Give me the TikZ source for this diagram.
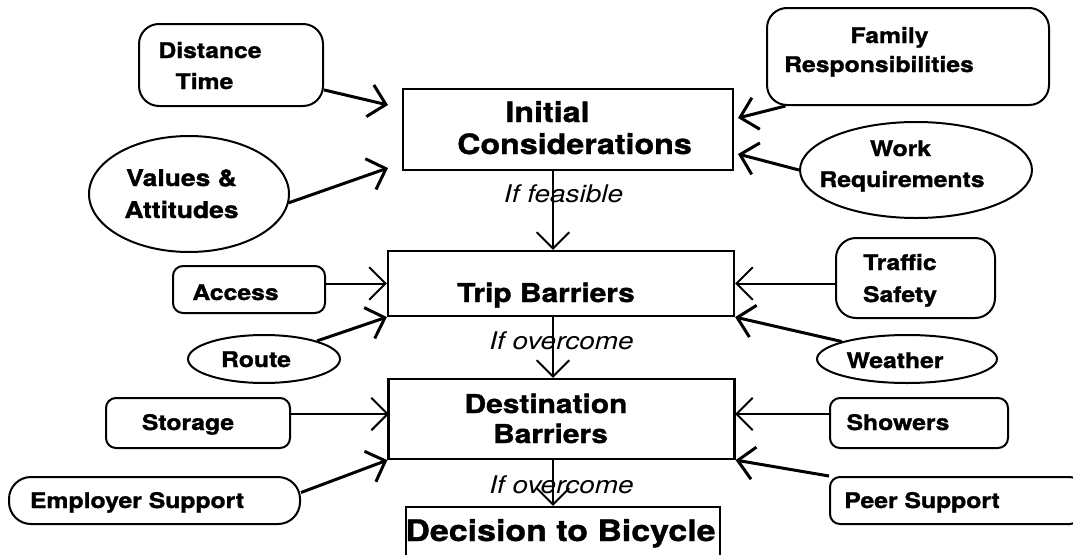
\documentclass[tikz,border=0pt]{standalone}
\usepackage{fontspec}
\setmainfont{TeX Gyre Heros}[FakeStretch=1.15, BoldFeatures={FakeBold=1.3}]
\usetikzlibrary{arrows.meta,shapes.geometric,calc}
\begin{document}
\begin{tikzpicture}[x=1pt,y=-1pt,
  lbl/.style={font=\bfseries\fontsize{21.5}{26}\selectfont, inner sep=0pt, anchor=base},
  lblv/.style={font=\bfseries\fontsize{23}{28}\selectfont, inner sep=0pt, anchor=base},
  bigt/.style={font=\bfseries\fontsize{28}{34}\selectfont, inner sep=0pt, anchor=base},
  midt/.style={font=\bfseries\fontsize{26}{32}\selectfont, inner sep=0pt, anchor=base},
  dect/.style={font=\bfseries\fontsize{29.5}{35}\selectfont, inner sep=0pt, anchor=base},
  itl/.style={font=\itshape\fontsize{24.3}{29}\selectfont, inner sep=0pt, anchor=base},
  mainbox/.style={draw, line width=2.2pt, inner sep=0pt},
  rbox/.style={draw, line width=2pt, rounded corners=#1, inner sep=0pt},
  rbox/.default=10pt,
  oval/.style={draw, ellipse, line width=2pt, inner sep=0pt},
  thinarr/.style={line width=2pt, -{Straight Barb[angle=90:23pt]}},
  thickarr/.style={line width=3pt, -{Straight Barb[angle=90:23pt]}},
]
\fill[white] (0,0) rectangle (1073,554);
\useasboundingbox (0,0) rectangle (1073,554);

% coordinates for free arrow ends
\coordinate (tdt) at (388,105);
\coordinate (tva) at (388,168);
\coordinate (tfr) at (738,118);
\coordinate (twr) at (738,154);
\coordinate (tst) at (389,414);
\coordinate (tsh) at (735,414);
\coordinate (vx) at (553,0);

% left column
\node[rbox=20pt, minimum width=184pt, minimum height=82pt] (dt) at (231,65) {};
\node[lbl] (dt1) at (210,58) {Distance};
\node[lbl] (dt2) at (204.5,89) {Time};

\node[oval, minimum width=200pt, minimum height=116pt] (va) at (189,194) {};
\node[lblv] (va1) at (181.5,186) {Values \&};
\node[lblv] (va2) at (181.5,218) {Attitudes};

\node[rbox=10pt, minimum width=152pt, minimum height=47pt] (ac) at (249,289.5) {};
\node[lbl] (ac1) at (235.5,300) {Access};

\node[oval, minimum width=152pt, minimum height=48pt] (rt) at (264,359) {};
\node[lbl] (rt1) at (256,367) {Route};

\node[rbox=10pt, minimum width=184pt, minimum height=50pt] (st) at (198,423) {};
\node[lbl] (st1) at (188,430) {Storage};

\node[rbox=22pt, minimum width=291pt, minimum height=47pt] (em) at (154.5,500.5) {};
\node[lbl] (em1) at (137,508) {Employer Support};

% centre column
\node[mainbox, minimum width=330pt, minimum height=81pt] (ic) at (568,129.5) {};
\node[bigt] (ic1) at (547.5,122) {Initial};
\node[bigt] (ic2) at (574.5,154) {Considerations};
\node[itl] (f1) at (563.5,202) {If feasible};

\node[mainbox, minimum width=346pt, minimum height=65pt] (tb) at (561,283.5) {};
\node[midt] (tb1) at (546,302) {Trip Barriers};
\node[itl] (o1) at (561.5,349) {If overcome};

\node[mainbox, minimum width=346pt, minimum height=80pt] (db) at (561.5,419) {};
\node[midt] (db1) at (546,413) {Destination};
\node[midt] (db2) at (550.5,443) {Barriers};
\node[itl] (o2) at (561.5,493) {If overcome};

\node[mainbox, minimum width=314pt, minimum height=60pt] (dec) at (563,537) {};
\node[dect] (dec1) at (560.5,541) {Decision to Bicycle};

% right column
\node[rbox=20pt, minimum width=282pt, minimum height=97pt] (fr) at (908,56.5) {};
\node[lbl] (fr1) at (889.5,43) {Family};
\node[lbl] (fr2) at (879,72) {Responsibilities};

\node[oval, minimum width=232pt, minimum height=96pt] (wr) at (916,170) {};
\node[lbl] (wr1) at (900.5,156) {Work};
\node[lbl] (wr2) at (902,187) {Requirements};

\node[rbox=20pt, minimum width=159pt, minimum height=80pt] (ts) at (915.5,278) {};
\node[lbl] (ts1) at (900,270) {Traffic};
\node[lbl] (ts2) at (900,302) {Safety};

\node[oval, minimum width=180pt, minimum height=48pt] (we) at (907,359) {};
\node[lbl] (we1) at (895,368) {Weather};

\node[rbox=10pt, minimum width=178pt, minimum height=50pt] (sh) at (919,423) {};
\node[lbl] (sh1) at (898,430) {Showers};

\node[rbox=10pt, minimum width=250pt, minimum height=47pt] (ps) at (955,500.5) {};
\node[lbl] (ps1) at (922,508) {Peer Support};

% connectors
\draw[thickarr] (dt.-15) -- (tdt);
\draw[thickarr] (va.-5) -- (tva);
\draw[thickarr] (fr.202) -- (tfr);
\draw[thickarr] (wr.west) -- (twr);

\draw[thinarr] (ic.south -| vx) -- (tb.north -| vx);
\draw[thinarr] (tb.south -| vx) -- (db.north -| vx);
\draw[thinarr] (db.south -| vx) -- (dec.north -| vx);

\draw[thinarr] (ac.east |- tb.west) -- (tb.west);
\draw[thickarr] (rt) -- (tb.south west);
\draw[thinarr] (ts.west |- tb.east) -- (tb.east);
\draw[thickarr] (we.165) -- (tb.south east);

\draw[thinarr] (st.east |- tst) -- (tst);
\draw[thickarr] ($(em.east)+(0,-8)$) -- (db.south west);
\draw[thinarr] (sh.west |- tsh) -- (tsh);
\draw[thickarr] (ps.north west) -- (db.south east);
\end{tikzpicture}
\end{document}
